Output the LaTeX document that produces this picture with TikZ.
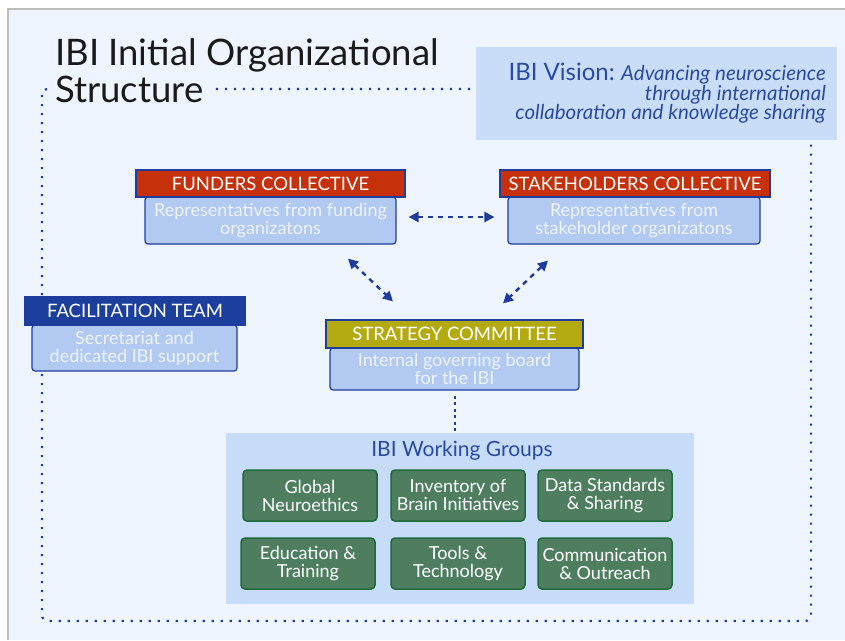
\documentclass[tikz,border=0pt]{standalone}
\usepackage{fontspec}
\setmainfont{Lato}
\usetikzlibrary{arrows.meta,calc}
\definecolor{panel}{HTML}{EEF5FE}
\definecolor{edge}{HTML}{BDBDBD}
\definecolor{navy}{HTML}{1F3C9C}
\definecolor{vis}{HTML}{C9DDF8}
\definecolor{bodyc}{HTML}{B2CAF2}
\definecolor{bodytxt}{HTML}{EEF3FC}
\definecolor{redh}{HTML}{C6300A}
\definecolor{blueh}{HTML}{1C3F9E}
\definecolor{oliveh}{HTML}{B3AA10}
\definecolor{wgc}{HTML}{C7DCF9}
\definecolor{greenf}{HTML}{4E7E5F}
\definecolor{greend}{HTML}{1E6A3A}
\definecolor{titletxt}{HTML}{1A1A1A}
\definecolor{vistxt}{HTML}{2A4AA2}
\tikzset{
  bodybox/.style={draw=navy, line width=1.2pt, fill=bodyc, rounded corners=3pt, inner sep=0pt,
    text=bodytxt, font=\fontsize{18}{18}\selectfont, align=center},
  headbox/.style={draw=navy, line width=1.2pt, inner sep=0pt, text=white,
    font=\fontsize{18.5}{16}\selectfont, minimum height=27pt},
  groupbox/.style={draw=greend, line width=1.5pt, fill=greenf, rounded corners=4pt, inner sep=0pt,
    minimum width=134pt, minimum height=51pt, text=white, align=center,
    font=\fontsize{18}{18}\selectfont},
  twoway/.style={draw=navy, line width=2.4pt, dash pattern=on 5pt off 5pt,
    {Triangle[length=10pt,width=10pt]}-{Triangle[length=10pt,width=10pt]}},
  dotline/.style={draw=navy, line width=2.2pt, dash pattern=on 2.2pt off 6.8pt},
}
\begin{document}
\begin{tikzpicture}[x=1pt,y=-1pt]
\useasboundingbox (0,0) rectangle (845,640);
\fill[white] (0,0) rectangle (845,640);
\fill[panel] (8,9) rectangle (845,640);
\draw[edge, line width=1.5pt] (8,640) -- (8,9) -- (845,9);

% dotted frame
\draw[dotline, rounded corners=6pt] (42,89) rectangle (811,621);

% title
\node[anchor=base west, inner sep=0pt, text=titletxt,
  font=\fontsize{36.5}{37}\selectfont] (title1) at (55,65) {IBI Initial Organizational};
\node[anchor=base west, fill=panel, inner xsep=6pt, inner ysep=3pt, text=titletxt,
  font=\fontsize{36.5}{37}\selectfont] (title2) at (49,102) {Structure};

% vision
\node[fill=vis, minimum width=361pt, minimum height=93pt, inner sep=0pt] (vision) at (656.5,93.5) {};
\node[anchor=north east, align=right, text=vistxt, inner sep=0pt,
  font=\fontsize{20.5}{19.5}\selectfont\itshape] (vistext) at (826,63)
  {{\fontsize{24}{19.5}\selectfont\upshape IBI Vision:} Advancing neuroscience\\
   through international\hspace{6pt}\\
   collaboration and knowledge sharing\hspace{11pt}};

% funders
\node[bodybox, minimum width=251pt, minimum height=47pt] (fb) at (270.5,220.5)
  {Representatives from funding\\organizatons};
\node[headbox, fill=redh, minimum width=269pt] (fh) at (270.5,183.5) {FUNDERS COLLECTIVE};

% stakeholders
\node[bodybox, minimum width=252pt, minimum height=47pt] (sb) at (634,220.5)
  {Representatives from\\stakeholder organizatons};
\node[headbox, fill=redh, minimum width=270pt] (sh) at (635,183.5) {STAKEHOLDERS COLLECTIVE};

% facilitation
\node[bodybox, minimum width=205pt, minimum height=46pt] (tb) at (134.5,348)
  {Secretariat and\\dedicated IBI support};
\node[headbox, fill=blueh, minimum width=220pt, minimum height=28pt] (th) at (135,311) {FACILITATION TEAM};

% strategy
\node[bodybox, minimum width=249pt, minimum height=42pt] (cb) at (454.5,369)
  {Internal governing board\\for the IBI};
\node[headbox, fill=oliveh, minimum width=257pt, minimum height=28pt] (ch) at (454.5,334) {STRATEGY COMMITTEE};

% arrows
\draw[twoway] ([shift={(12,-3.5)}]fb.east) -- ([shift={(-13,-3.5)}]sb.west);
\draw[twoway] ([shift={(77.5,14)}]fb.south) -- ([shift={(-61.5,-18)}]ch.north);
\draw[twoway] ([shift={(-86,16)}]sb.south) -- ([shift={(48.5,-16)}]ch.north);

% working groups
\node[fill=wgc, minimum width=468pt, minimum height=171pt, inner sep=0pt] (wg) at (460,518.5) {};
\node[text=vistxt, font=\fontsize{21}{20}\selectfont, inner sep=0pt] (wgt) at (462,451) {IBI Working Groups};
\draw[navy, line width=2pt, dash pattern=on 3pt off 3.5pt] ([shift={(0,5)}]cb.south) -- (cb.south |- wg.north);

\node[groupbox] (g1) at (310,495.5) {Global\\Neuroethics};
\node[groupbox] (g2) at (458,495.5) {Inventory of\\Brain Initiatives};
\node[groupbox] (g3) at (605,495.5) {Data Standards\\\& Sharing};
\node[groupbox] (g4) at (308,563.5) {Education \&\\Training};
\node[groupbox] (g5) at (458,563.5) {Tools \&\\Technology};
\node[groupbox] (g6) at (605,563.5) {Communication\\\& Outreach};
\end{tikzpicture}
\end{document}
